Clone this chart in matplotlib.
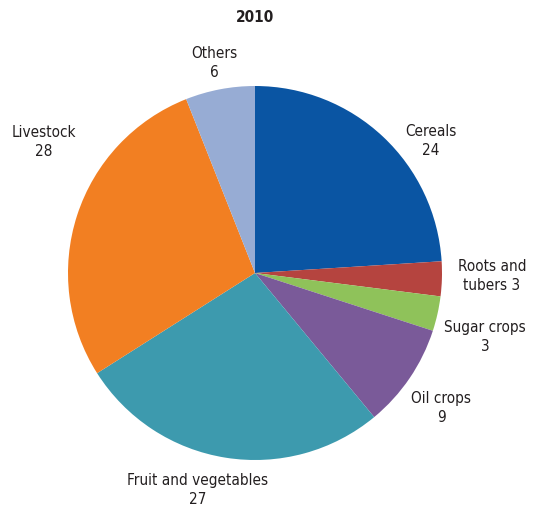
import matplotlib.pyplot as plt

# data
names = ['Cereals', 'Roots and tubers', 'Sugar crops', 'Oil crops',
         'Fruit and vegetables', 'Livestock', 'Others']
values = [24, 3, 3, 9, 27, 28, 6]
title = '2010'

colors = ['#0a55a3', '#b5443f', '#8fc25a', '#7a5a99', '#3d9aae', '#f27f22', '#97acd4']
# label text and centres in pixel coords of the image (x, y from top)
label_txt = ['Cereals\n24', 'Roots and\ntubers 3', 'Sugar crops\n3', 'Oil crops\n9',
             'Fruit and vegetables\n27', 'Livestock\n28', 'Others\n6']
label_px = [(431, 141), (492, 276), (485, 337), (441, 408), (198, 490), (44, 142), (214, 63)]

W, H = 544, 509
cx, cy, r = 255, 273, 187

plt.rcParams['font.family'] = ['DejaVu Sans']
plt.rcParams['font.stretch'] = 'condensed'
fig = plt.figure(figsize=(W / 100, H / 100), dpi=100)
ax = fig.add_axes([(cx - r) / W, (H - cy - r) / H, 2 * r / W, 2 * r / H])
ax.pie(values, colors=colors, startangle=90, counterclock=False,
       wedgeprops=dict(linewidth=0))
ax.set_xlim(-1, 1)
ax.set_ylim(-1, 1)
ax.set_aspect('equal')
ax.axis('off')

for (px, py), t in zip(label_px, label_txt):
    fig.text(px / W, 1 - py / H, t, ha='center', va='center', fontsize=11,
             color='#231f20', linespacing=1.3)

fig.text(cx / W, 1 - 17 / H, title, ha='center', va='center', fontsize=11,
         fontweight='bold', color='#231f20')

fig.savefig('out.png', dpi=100)
